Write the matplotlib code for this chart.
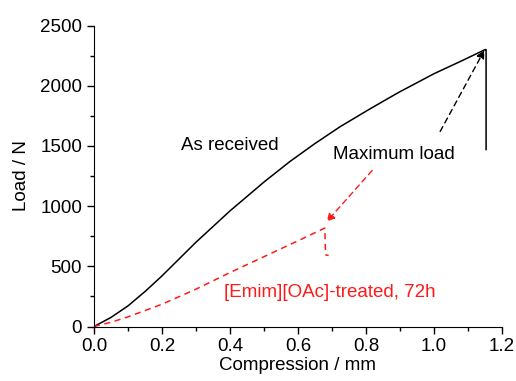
import matplotlib.pyplot as plt
from matplotlib.ticker import MultipleLocator

plt.rcParams['font.family'] = ['Liberation Sans', 'DejaVu Sans']

# As received sample
received_x = [0.0, 0.05, 0.1, 0.15, 0.2, 0.3, 0.4, 0.5, 0.576, 0.65, 0.724, 0.81, 0.895, 1.0, 1.08, 1.15, 1.153, 1.153]
received_y = [0, 75, 171, 290, 420, 700, 960, 1200, 1370, 1520, 1660, 1805, 1943, 2100, 2205, 2300, 2300, 1470]

# [Emim][OAc]-treated, 72h
treated_x = [0.0, 0.05, 0.1, 0.2, 0.3, 0.4, 0.5, 0.6, 0.679, 0.681, 0.69]
treated_y = [0, 35, 80, 185, 310, 448, 580, 712, 818, 596, 590]

fig = plt.figure(figsize=(5.16, 3.81), dpi=100)
ax = fig.add_axes([0.182, 0.143, 0.791, 0.79])

ax.plot(received_x, received_y, color='black', lw=1.1)
ax.plot(treated_x, treated_y, color='#ff1a1a', lw=1.1, ls=(0, (4, 3)))

ax.set_xlim(0, 1.2)
ax.set_ylim(0, 2500)
ax.set_xticks([0, 0.2, 0.4, 0.6, 0.8, 1.0, 1.2])
ax.set_xticklabels(['0.0', '0.2', '0.4', '0.6', '0.8', '1.0', '1.2'])
ax.xaxis.set_minor_locator(MultipleLocator(0.1))
ax.yaxis.set_major_locator(MultipleLocator(500))
ax.yaxis.set_minor_locator(MultipleLocator(250))
ax.spines['top'].set_visible(False)
ax.spines['right'].set_visible(False)
ax.tick_params(which='major', length=5, width=1, labelsize=13.5, direction='out')
ax.tick_params(which='minor', length=3, width=1, direction='out')

ax.set_xlabel('Compression / mm', fontsize=13.5, labelpad=1)
ax.set_ylabel('Load / N', fontsize=13.5, labelpad=7)

ax.text(0.40, 1500, 'As received', fontsize=13.5, ha='center', va='center')
ax.text(0.882, 1429, 'Maximum load', fontsize=13.5, ha='center', va='center')
ax.text(0.693, 280, '[Emim][OAc]-treated, 72h', fontsize=13.5, ha='center',
        va='center', color='#ff1a1a')

ax.annotate('', xy=(1.148, 2295), xytext=(1.018, 1620),
            arrowprops=dict(arrowstyle='-|>', ls=(0, (4, 3)), color='black',
                            lw=1, mutation_scale=12, shrinkA=0, shrinkB=0))
ax.annotate('', xy=(0.684, 870), xytext=(0.818, 1296),
            arrowprops=dict(arrowstyle='-|>', ls=(0, (4, 3)), color='#ff1a1a',
                            lw=1, mutation_scale=12, shrinkA=0, shrinkB=0))

fig.savefig('out.png', dpi=100)
